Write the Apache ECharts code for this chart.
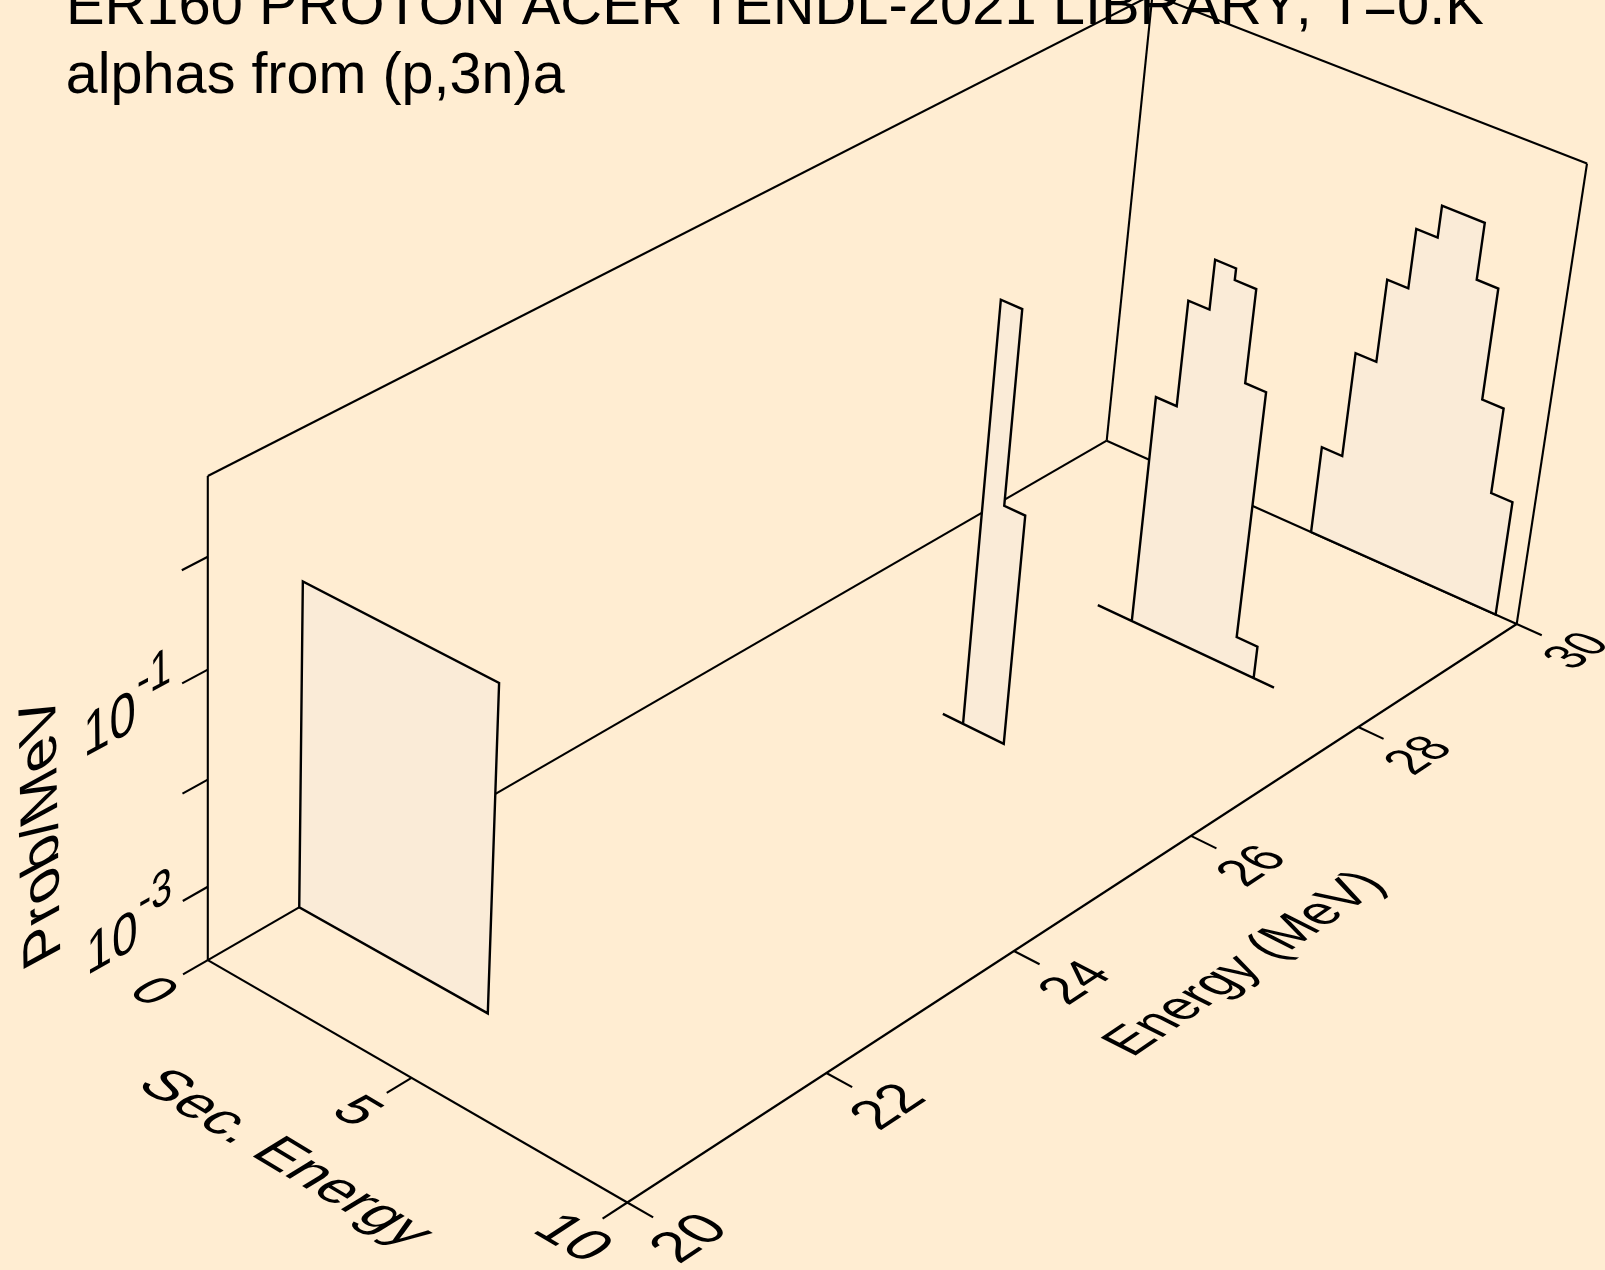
<!DOCTYPE html><html><head><meta charset="utf-8"><style>html,body{margin:0;padding:0;background:#FFEDD2}#c{width:1605px;height:1270px}</style>
<script src="https://cdn.jsdelivr.net/npm/echarts@6/dist/echarts.min.js"></script></head><body><div id="c"></div>
<script>
// ---- data ----
const titleLines = ['ER160 PROTON ACER TENDL-2021 LIBRARY; T=0.K', 'alphas from (p,3n)a'];
const sliceEnergies = [30, 28, 26, 20.9];
const edges30 = [5.11, 5.60, 6.09, 6.58, 7.07, 7.55, 8.04, 8.53, 9.02, 9.51];
const probs30 = [0.00144, 0.0150, 0.0935, 0.342, 0.681, 0.681, 0.1995, 0.0174, 0.00262];
const edges28 = [3.81, 4.64, 5.13, 5.62, 6.10, 6.59, 7.07, 7.56, 8.04];
const probs28 = [0.0002, 0.0315, 0.312, 0.904, 0.708, 0.0944, 0.00041, 0.0002];
const edges26 = [4.15, 4.64, 5.13, 5.62];
const probs26 = [0.0002, 2.03, 0.0316];
const edges209 = [0, 4.64];
const probs209 = [0.217];
const energyRange = [20, 30];
const secRange = [0, 10];
const probRange = [2e-4, 5];
const energyTicks = [20, 22, 24, 26, 28, 30];
const secTicks = [0, 5, 10];
const probTicks = [1e-3, 1e-2, 1e-1, 1];
const probTickExponents = ['-3', null, '-1', null];

// ---- view calibration (corners of the box in the page) ----
const cO=[207.8,960.1], cE=[1106.7,440.7], cES=[1516.7,624], cS=[627.3,1202.5], cZ=[207.8,476], cT=[1587,163];
const dx1=cE[0]-cES[0],dx2=cS[0]-cES[0],sx=cO[0]-cE[0]+cES[0]-cS[0];
const dy1=cE[1]-cES[1],dy2=cS[1]-cES[1],sy=cO[1]-cE[1]+cES[1]-cS[1];
const den=dx1*dy2-dx2*dy1, pg=(sx*dy2-dx2*sy)/den, ph=(dx1*sy-sx*dy1)/den;
const pc=(1+pg+ph)*(cES[0]-cT[0])/(cT[0]-cZ[0]);
const ax=[cO[0],cE[0]*(1+pg)-cO[0],cS[0]*(1+ph)-cO[0],cZ[0]*(1+pc)-cO[0]];
const ay=[cO[1],cE[1]*(1+pg)-cO[1],cS[1]*(1+ph)-cO[1],cZ[1]*(1+pc)-cO[1]];
const lg0=Math.log10(probRange[0]), lg1=Math.log10(probRange[1]);
// project (energy, secondary energy, log10 prob) to page
function proj(E,S,L){
  const e=(E-energyRange[0])/(energyRange[1]-energyRange[0]), s=(S-secRange[0])/(secRange[1]-secRange[0]), z=(L-lg0)/(lg1-lg0);
  const w=1+pg*e+ph*s+pc*z;
  return [(ax[0]+ax[1]*e+ax[2]*s+ax[3]*z)/w,(ay[0]+ay[1]*e+ay[2]*s+ay[3]*z)/w];
}
function P3(E,S,p){return proj(E,S,Math.log10(p));}
function sub(a,b,k){return [(a[0]-b[0])*k,(a[1]-b[1])*k];}
function neg(a){return [-a[0],-a[1]];}
const FONT='"Liberation Sans", Arial, sans-serif';
const LW_FRAME=2.1, LW_SLICE=2.4;

// text laid in a plane: b = baseline vector per em, d = glyph-down vector per em
function planeText(text,pos,b,d){
  const f=40, m00=b[0]/f,m10=b[1]/f,m01=d[0]/f,m11=d[1]/f;
  const E=(m00+m11)/2,F=(m00-m11)/2,G=(m10+m01)/2,H=(m10-m01)/2;
  const Q=Math.hypot(E,H),R=Math.hypot(F,G),a1=Math.atan2(G,F),a2=Math.atan2(H,E);
  const th=(a2-a1)/2, ph_=(a2+a1)/2;
  return {type:'group',x:pos[0],y:pos[1],rotation:-ph_,scaleX:Q+R,scaleY:Q-R,silent:true,children:[
    {type:'text',rotation:-th,silent:true,style:{text,fontFamily:FONT,fontSize:f,fill:'#000',align:'center',verticalAlign:'middle'}}]};
}
function dE(E,S,L,k){return sub(proj(E+0.05,S,L),proj(E-0.05,S,L),k/0.1);}
function dS(E,S,L,k){return sub(proj(E,S+0.05,L),proj(E,S-0.05,L),k/0.1);}
function dL(E,S,L,k){return sub(proj(E,S,L+0.02),proj(E,S,L-0.02),k/0.04);}

const EM_E=0.46, EM_S=1.13, EM_EL=1.12, EM_L=0.54;

const slices=[[edges30,probs30],[edges28,probs28],[edges26,probs26],[edges209,probs209]];

function seg(api,a,b,lw){
  const p=api.coord(a),q=api.coord(b);
  return {type:'line',shape:{x1:p[0],y1:p[1],x2:q[0],y2:q[1]},style:{stroke:'#000',lineWidth:lw,lineCap:'butt'},silent:true};
}
function renderFrame(params,api){
  const [e0,e1]=energyRange,[s0,s1]=secRange,ch=[];
  const b=(e,s)=>proj(e,s,lg0), t=(e,s)=>proj(e,s,lg1);
  // page title, clipped by the top edge as in the reference
  ch.push(planeText(titleLines[0],api.coord([774.9,8]),[57.9,0],[0,57.3]));
  ch.push(planeText(titleLines[1],api.coord([315.3,77]),[57.54,0],[0,57.3]));
  [[b(e0,s0),b(e0,s1)],[b(e0,s1),b(e1,s1)],[b(e1,s1),b(e1,s0)],[b(e1,s0),b(e0,s0)],
   [b(e0,s0),t(e0,s0)],[b(e1,s0),t(e1,s0)],[b(e1,s1),t(e1,s1)],
   [t(e0,s0),t(e1,s0)],[t(e1,s0),t(e1,s1)]].forEach(l=>ch.push(seg(api,l[0],l[1],LW_FRAME)));
  const tE=e0-0.24, tS=s1+0.58;
  secTicks.forEach(s=>{ ch.push(seg(api,b(e0,s),b(tE,s),LW_FRAME));
    const a=[e0-0.54,s,lg0];
    ch.push(planeText(String(s),api.coord(proj(...a)),dS(...a,EM_S),neg(dE(...a,EM_E)))); });
  energyTicks.forEach(e=>{ ch.push(seg(api,b(e,s1),b(e,tS),LW_FRAME));
    const a=[e,s1+1.42,lg0];
    ch.push(planeText(String(e),api.coord(proj(...a)),dE(...a,EM_E),dS(...a,EM_EL))); });
  probTicks.forEach((p,i)=>{ const L=Math.log10(p);
    ch.push(seg(api,proj(e0,s0,L),proj(tE,s0,L),LW_FRAME));
    if(probTickExponents[i]){
      const a=[e0-0.91,s0,L-0.04], c=[e0-0.50,s0,L+0.20];
      ch.push(planeText('10',api.coord(proj(...a)),dE(...a,EM_E*0.94),neg(dL(...a,EM_L))));
      ch.push(planeText(probTickExponents[i],api.coord(proj(...c)),dE(...c,EM_E*0.77),neg(dL(...c,EM_L*0.87))));
    }});
  // axis titles
  const st=[e0-1.24,s0+5.07,lg0];
  ch.push(planeText('Sec. Energy',api.coord(proj(...st)),dS(...st,1.19),neg(dE(...st,EM_E))));
  const et=[e0+5.0,s1+3.18,lg0];
  ch.push(planeText('Energy (MeV)',api.coord(proj(...et)),dE(...et,0.47),dS(...et,EM_EL)));
  const pt=[e0-1.525,s0,Math.log10(1e-2)+0.365];
  ch.push(planeText('Prob/MeV',api.coord(proj(...pt)),dL(...pt,0.535),dE(...pt,0.48)));
  return {type:'group',children:ch};
}
function renderSlice(params,api){
  const i=api.value(0), E=api.value(1), [ed,pr]=slices[i], floor=probRange[0];
  const pts=[P3(E,ed[0],floor)];
  pr.forEach((p,k)=>{pts.push(P3(E,ed[k],p));pts.push(P3(E,ed[k+1],p));});
  pts.push(P3(E,ed[ed.length-1],floor));
  return {type:'polygon',shape:{points:pts.map(p=>api.coord(p))},silent:true,
    style:{fill:'#FAEBD7',stroke:'#000',lineWidth:LW_SLICE,lineJoin:'miter'}};
}
const chart=echarts.init(document.getElementById('c'),null,{renderer:'canvas'});
chart.setOption({
  animation:false,backgroundColor:'#FFEDD2',
  grid:{left:0,right:0,top:0,bottom:0},
  xAxis:{type:'value',min:0,max:1605,show:false},
  yAxis:{type:'value',min:0,max:1270,inverse:true,show:false},
  tooltip:{show:false},
  series:[
    {type:'custom',name:'frame',clip:false,z:2,renderItem:renderFrame,data:[[0]]},
    {type:'custom',name:'spectra',clip:false,z:3,renderItem:renderSlice,
     data:sliceEnergies.map((E,i)=>[i,E]),encode:{x:-1,y:-1}}
  ]
});
</script></body></html>
